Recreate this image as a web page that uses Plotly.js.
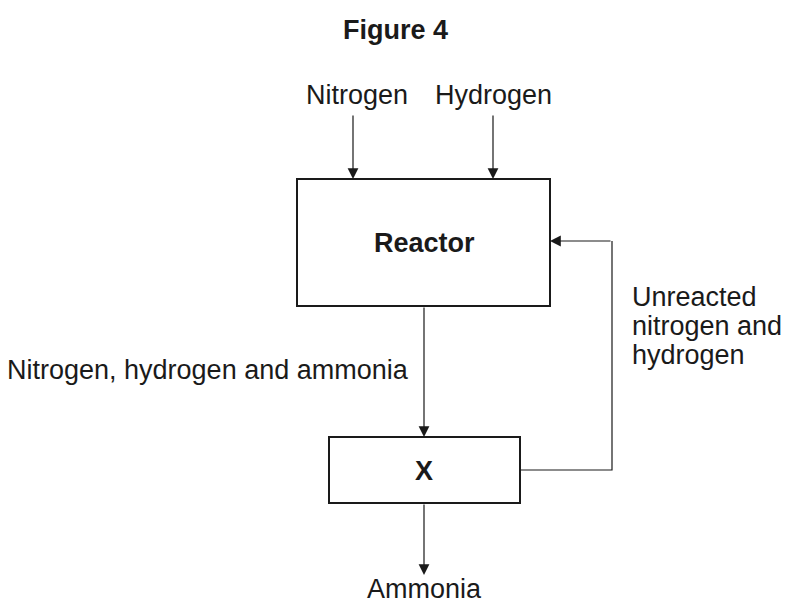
<!DOCTYPE html>
<html>
<head>
<meta charset="utf-8">
<script src="https://cdn.plot.ly/plotly-3.0.1.min.js"></script>
<style>
  html, body { margin: 0; padding: 0; background: #ffffff; }
  #figure-4 { width: 787px; height: 604px; }
</style>
</head>
<body>
<div id="figure-4"></div>
<script>
// labels of the diagram
const titleText = "Figure 4";
const inputLabels = ["Nitrogen", "Hydrogen"];
const boxLabels = ["Reactor", "X"];
const streamLabel = "Nitrogen, hydrogen and ammonia";
const recycleLines = ["Unreacted", "nitrogen and", "hydrogen"];
const productLabel = "Ammonia";

// geometry in pixel coordinates (y grows downwards)
const geo = {
    inputX: [353, 493],
    inputTextX: [357, 493],
    inputTextY: 95,
    inputFrom: 114,
    reactor: { x0: 297, x1: 550, y0: 179, y1: 306 },
    sep: { x0: 329, x1: 520, y0: 437, y1: 503 },
    mainX: 424,
    loopX: 612,
    loopY: 470,
    backY: 241,
    productTip: 575,
    productTextY: 589
};

const ink = "#1a1a1a";
const font_plain = { family: "Liberation Sans, Arial, sans-serif", size: 27, color: ink };
const font_bold = { family: "Liberation Sans, Arial, sans-serif", size: 27, color: ink, weight: "bold" };

function label(x, y, text, font, anchor) {
    return {
        x: x, y: y, xref: "x", yref: "y",
        text: text, showarrow: false,
        font: font,
        xanchor: anchor || "center", yanchor: "middle"
    };
}

function arrow(x0, y0, x1, y1) {
    return {
        x: x1, y: y1, ax: x0, ay: y0,
        xref: "x", yref: "y", axref: "x", ayref: "y",
        text: "", showarrow: true,
        arrowhead: 2, arrowsize: 1.8, arrowwidth: 1.2,
        arrowcolor: ink, standoff: 0, startstandoff: 0
    };
}

function figure_draw() {
    const shapes = [];
    const annotations = [];

    // boxes
    [geo.reactor, geo.sep].forEach(function(b) {
        shapes.push({
            type: "rect", xref: "x", yref: "y",
            x0: b.x0, x1: b.x1, y0: b.y0, y1: b.y1,
            line: { color: ink, width: 2 }, fillcolor: "rgba(0,0,0,0)"
        });
    });

    // recycle line: X -> right -> up
    shapes.push({
        type: "path", xref: "x", yref: "y",
        path: "M " + geo.sep.x1 + " " + geo.loopY +
              " L " + geo.loopX + " " + geo.loopY +
              " L " + geo.loopX + " " + geo.backY,
        line: { color: ink, width: 1.2 }
    });

    // title
    annotations.push(label(395, 30, titleText, font_bold));

    // feeds
    for (let i = 0; i < inputLabels.length; i++) {
        annotations.push(label(geo.inputTextX[i], geo.inputTextY, inputLabels[i], font_plain));
        annotations.push(arrow(geo.inputX[i], geo.inputFrom, geo.inputX[i], geo.reactor.y0));
    }

    // box names
    annotations.push(label(geo.mainX, (geo.reactor.y0 + geo.reactor.y1) / 2, boxLabels[0], font_bold));
    annotations.push(label(geo.mainX, (geo.sep.y0 + geo.sep.y1) / 2 + 1, boxLabels[1], font_bold));

    // reactor -> X
    annotations.push(arrow(geo.mainX, geo.reactor.y1, geo.mainX, geo.sep.y0));
    annotations.push(label(411, 370, streamLabel, font_plain, "right"));

    // recycle back into reactor
    annotations.push(arrow(geo.loopX, geo.backY, geo.reactor.x1, geo.backY));
    for (let i = 0; i < recycleLines.length; i++) {
        annotations.push(label(630, 297 + i * 29, recycleLines[i], font_plain, "left"));
    }

    // product
    annotations.push(arrow(geo.mainX, geo.sep.y1, geo.mainX, geo.productTip));
    annotations.push(label(geo.mainX, geo.productTextY, productLabel, font_plain));

    const layout = {
        width: 787, height: 604,
        margin: { l: 0, r: 0, t: 0, b: 0 },
        paper_bgcolor: "#ffffff",
        plot_bgcolor: "#ffffff",
        showlegend: false,
        xaxis: { range: [0, 787], visible: false, fixedrange: true },
        yaxis: { range: [604, 0], visible: false, fixedrange: true },
        shapes: shapes,
        annotations: annotations
    };

    Plotly.newPlot("figure-4", [], layout, { staticPlot: true });
}

figure_draw();
</script>
</body>
</html>
